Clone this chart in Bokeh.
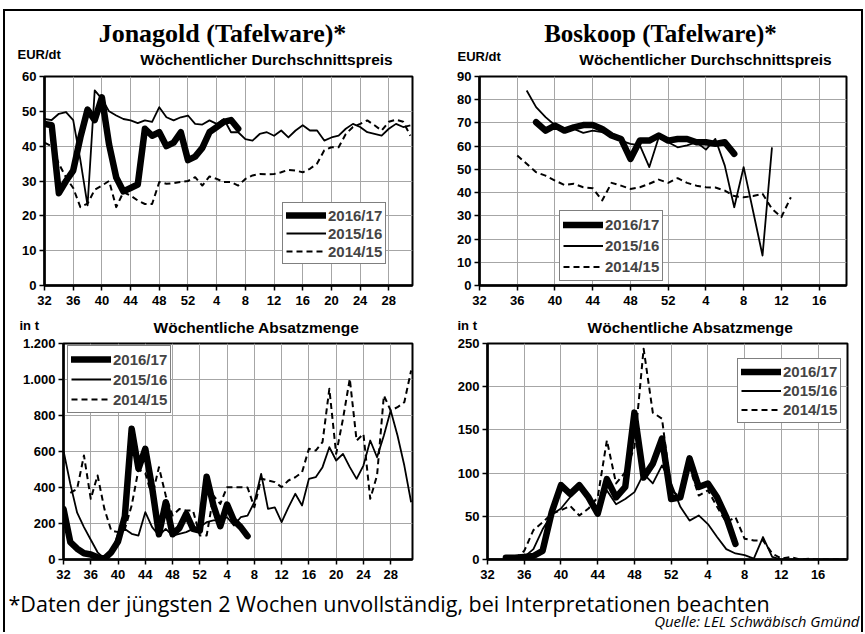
import numpy as np
from bokeh.plotting import figure
from bokeh.models import Range1d, FixedTicker, Label, Legend, LegendItem
from bokeh.layouts import column, row
from bokeh.embed import file_html
from bokeh.resources import INLINE

# ---------------- data ----------------
weeks_jona = list(range(32, 53)) + list(range(1, 32))   # 52 weeks
weeks_bos = list(range(32, 53)) + list(range(1, 20))    # 40 weeks
series_labels = ["2016/17", "2015/16", "2014/15"]

# Jonagold price EUR/dt
jona_price_1617 = [46.4, 46, 26.5, 30, 33, 42.5, 50.5, 47.5, 54, 40.5, 31, 27, 28, 29,
                   45, 43, 44, 40, 41, 44, 36, 37, 39.5, 44, 45.5, 47, 47.5, 45]
jona_price_1516 = [47.8, 47.5, 49.3, 49.8, 47.5, 36, 23, 56, 53.6, 50, 48.8, 47.8, 47.4,
                   46.6, 47.4, 47, 51.2, 48.3, 47.4, 48.3, 48.8, 46.4, 46.2, 47.4, 46.4,
                   47.8, 44, 44, 42, 41.6, 43.5, 44, 43, 44.5, 42.5, 44.5, 46, 44.5, 44.5,
                   41.6, 42.5, 43, 45, 46.4, 45.5, 44, 43.5, 43, 45, 46.4, 45.5, 46]
jona_price_1415 = [41, 40, 35, 31, 28, 22.5, 23.5, 27.5, 28.7, 30, 22.5, 26.8, 25.8, 24.4,
                   23.4, 23.4, 29.7, 29.2, 29.4, 29.7, 30, 31.1, 28.7, 31.3, 30.6, 29.7,
                   29.7, 28.7, 30.6, 31.6, 32, 31.9, 32, 32.5, 33.2, 33, 32.5, 33.5, 35,
                   38.8, 39.7, 39.7, 43.5, 45.5, 46.4, 47.4, 46, 44.5, 47, 47.6, 47, 43]

# Jonagold volume t
jona_vol_1617 = [281, 96, 60, 35, 28, 12, 5, 40, 100, 240, 726, 504, 615, 400, 140, 318,
                 140, 175, 254, 170, 160, 460, 300, 185, 305, 217, 180, 130]
jona_vol_1516 = [605, 420, 260, 180, 110, 40, 5, 30, 143, 170, 143, 133, 263, 180, 133,
                 170, 133, 143, 152, 170, 180, 207, 217, 217, 235, 189, 235, 244, 318,
                 476, 281, 290, 207, 290, 365, 300, 448, 457, 513, 624, 550, 587, 513,
                 448, 522, 661, 568, 689, 828, 689, 522, 318]
jona_vol_1415 = [None, 370, 393, 578, 337, 467, 281, 161, 152, 170, 300, 500, 480, 350,
                 513, 355, 244, 281, 272, 272, 133, 133, 355, 309, 402, 402, 402, 400,
                 290, 450, 439, 430, 402, 439, 457, 485, 615, 605, 652, 948, 587, 781,
                 1004, 661, 698, 337, 467, 911, 828, 846, 874, 1050]

# Boskoop price EUR/dt
bos_price_1617 = [None] * 6 + [70.3, 66.7, 68.9, 66.7, 68.1, 69.1, 69.1, 67.4, 64.6, 63.1,
                               54.5, 62.4, 62.4, 64.6, 62.4, 63.1, 63.1, 61.7, 61.7, 61,
                               61.7, 56.7] + [None] * 12
bos_price_1516 = [None] * 5 + [84, 76.8, 72.5, 69, 67.4, 67.4, 65.7, 66.7, 66, 64.6, 62.4,
                               61, 60.3, 51, 63.8, 61.7, 59.5, 60.3, 61.7, 58.5, 63.1,
                               51.6, 33.7, 51, 32, 12.9, 59.5] + [None] * 8
bos_price_1415 = [None] * 4 + [56, 52.4, 48.8, 47.3, 45.2, 43.3, 43.8, 42.3, 41.9, 36.6,
                               44.2, 43, 41.6, 42.3, 43.8, 45.6, 44.2, 46.2, 44.2, 43,
                               42.3, 42.2, 40.9, 38.5, 38, 38.5, 39.5, 33, 29.5, 38] + [None] * 6

# Boskoop volume t
bos_vol_1617 = [None] * 2 + [2, 2, 3, 4, 10, 55, 86, 76, 86, 72, 53, 93, 72, 84, 170, 95,
                             111, 140, 70, 72, 117, 84, 88, 72, 49, 18] + [None] * 12
bos_vol_1516 = [0, 0, 0, 1, 3, 12, 35, 52, 59, 72, 82, 74, 59, 80, 64, 70, 78, 99, 88, 109,
                88, 61, 45, 51, 41, 26, 12, 7, 5, 1, 26, 3, 0, 0, 0, 0, 0, 0, 0, 0]
bos_vol_1415 = [None] * 3 + [1, 10, 34, 43, 53, 57, 62, 51, 59, 72, 138, 88, 101, 130, 244,
                             170, 163, 80, 72, 107, 74, 80, 61, 43, 49, 24, 22, 22, 7, 1,
                             3, 0, 1, 0, 0, 0, 0]

FONT = "Liberation Sans"
OX, OY = 5, 11   # page position of the content (inside the outer border)


def arr(vals):
    return np.array([np.nan if v is None else v for v in vals], dtype=float)


def add_text(p, fl, fb, px, py, text, size, font=FONT, style="bold", align="left"):
    # px, py: page position; fl, fb: page position of the frame's left / bottom
    p.add_layout(Label(x=px - fl, y=fb - py, x_units="screen", y_units="screen",
                       text=text, text_font=font, text_font_size=size,
                       text_font_style=style, text_align=align,
                       text_baseline="alphabetic", text_color="black"))


def text_fig(width, height):
    t = figure(width=width, height=height, output_backend="svg", toolbar_location=None,
               x_axis_type=None, y_axis_type=None, x_range=Range1d(0, 1),
               y_range=Range1d(0, 1), min_border=0, outline_line_color=None,
               background_fill_color="white", border_fill_color="white")
    t.grid.visible = False
    return t


def panel(width, height, ml, mr, mt, mb, weeks, xmax, ymax, ystep, series,
          legend_loc, legend_h, ylabel_over=None):
    p = figure(width=width, height=height, output_backend="svg", toolbar_location=None,
               x_range=Range1d(0, xmax), y_range=Range1d(0, ymax),
               min_border_left=ml, min_border_right=mr, min_border_top=mt,
               min_border_bottom=mb, background_fill_color="white",
               border_fill_color="white")
    xt = list(range(0, len(weeks), 4))
    p.xaxis.ticker = FixedTicker(ticks=xt)
    p.xaxis.major_label_overrides = {t: str(weeks[t]) for t in xt}
    yt = list(range(0, ymax + 1, ystep))
    p.yaxis.ticker = FixedTicker(ticks=yt)
    if ylabel_over:
        p.yaxis.major_label_overrides = ylabel_over
    for ax in (p.xaxis[0], p.yaxis[0]):
        ax.axis_line_width = 2.5
        ax.axis_line_color = "black"
        ax.major_tick_line_width = 1.5
        ax.major_tick_line_color = "black"
        ax.major_tick_in = 0
        ax.major_tick_out = 5
        ax.minor_tick_line_color = None
        ax.major_label_text_font = FONT
        ax.major_label_text_font_style = "bold"
        ax.major_label_text_font_size = "13px"
        ax.major_label_text_color = "black"
        ax.major_label_standoff = 3
    p.xaxis[0].major_label_standoff = 5
    p.grid.grid_line_color = "#a6a6a6"
    p.grid.grid_line_width = 1
    p.outline_line_color = "black"
    p.outline_line_width = 2
    x = np.arange(len(weeks))
    y17, y16, y15 = series
    r15 = p.line(x, arr(y15), line_color="black", line_width=2, line_dash="6 4",
                 line_join="round")
    r16 = p.line(x, arr(y16), line_color="black", line_width=1.8, line_join="round")
    r17 = p.line(x, arr(y17), line_color="black", line_width=6.5, line_join="round",
                 line_cap="round")
    items = [LegendItem(label=series_labels[0], renderers=[r17]),
             LegendItem(label=series_labels[1], renderers=[r16]),
             LegendItem(label=series_labels[2], renderers=[r15])]
    lh = int((legend_h - 8) / 3)
    leg = Legend(items=items, location=legend_loc, margin=0, padding=3, spacing=0,
                 glyph_width=40, glyph_height=lh, label_height=lh,
                 label_standoff=2, border_line_color="black", border_line_width=1.5,
                 background_fill_color="white", background_fill_alpha=1,
                 label_text_font=FONT, label_text_font_style="bold",
                 label_text_font_size="15px")
    p.add_layout(leg)
    return p


# geometry (page px)
LW, RW = 440, 416            # widths of the left / right column
TH_HEAD, TH_PLOT = 57, 242   # top row: header + plot heights
BH_HEAD, BH_PLOT = 27, 245   # bottom row
FOOT_H = 50
W = LW + RW

# ---- top header (titles of both top panels) ----
head_top = text_fig(W, TH_HEAD)
hb = OY + TH_HEAD
add_text(head_top, OX, hb, 222, 33, "Jonagold (Tafelware)*", "26px",
         font="Liberation Serif", align="center")
add_text(head_top, OX, hb, 17, 54, "EUR/dt", "13px")
add_text(head_top, OX, hb, 266, 59, "Wöchentlicher Durchschnittspreis", "15.5px",
         align="center")
add_text(head_top, OX, hb, 660, 33, "Boskoop (Tafelware)*", "25px",
         font="Liberation Serif", align="center")
add_text(head_top, OX, hb, 457, 56, "EUR/dt", "13px")
add_text(head_top, OX, hb, 705, 59, "Wöchentlicher Durchschnittspreis", "15.5px",
         align="center")

# ---- top plots ----
f1 = panel(LW, TH_PLOT, 39, 33, 8, 25, weeks_jona, 51.3, 60, 10,
           (jona_price_1617, jona_price_1516, jona_price_1415), (282 - 44, 285 - 264), 64)
f2 = panel(RW, TH_PLOT, 34, 15, 8, 25, weeks_bos, 38.9, 90, 10,
           (bos_price_1617, bos_price_1516, bos_price_1415), (559 - 479, 285 - 281), 72)

# ---- bottom header ----
bh = OY + TH_HEAD + TH_PLOT + BH_HEAD
head_bot = text_fig(W, BH_HEAD)
add_text(head_bot, OX, bh, 19, 325, "in t", "13px")
add_text(head_bot, OX, bh, 256, 327, "Wöchentliche Absatzmenge", "15.5px", align="center")
add_text(head_bot, OX, bh, 457, 325, "in t", "13px")
add_text(head_bot, OX, bh, 690, 327, "Wöchentliche Absatzmenge", "15.5px", align="center")

# ---- bottom plots ----
f3 = panel(LW, BH_PLOT, 58, 33, 6, 23, weeks_jona, 51.2, 1200, 200,
           (jona_vol_1617, jona_vol_1516, jona_vol_1415), (67 - 63, 559 - 413), 68,
           ylabel_over={1000: "1.000", 1200: "1.200"})
f4 = panel(RW, BH_PLOT, 42, 14, 6, 23, weeks_bos, 39.2, 250, 50,
           (bos_vol_1617, bos_vol_1516, bos_vol_1415), (737 - 487, 559 - 423), 66)

# ---- footer ----
fb = bh + BH_PLOT + FOOT_H
foot = text_fig(W, FOOT_H)
add_text(foot, OX, fb, 8, 603,
         "*Daten der jüngsten 2 Wochen unvollständig, bei Interpretationen beachten",
         "21.5px", font="Open Sans", style="normal")
add_text(foot, OX, fb, 859, 620, "Quelle: LEL Schwäbisch Gmünd", "15px",
         font="Open Sans", style="italic", align="right")

layout = column(head_top, row(f1, f2), head_bot, row(f3, f4), foot,
                styles={"border-top": "2px solid black", "border-left": "2px solid black",
                        "border-right": "2px solid black", "margin-left": "3px",
                        "margin-top": "9px"})

open("out.html", "w").write(file_html(layout, INLINE))
